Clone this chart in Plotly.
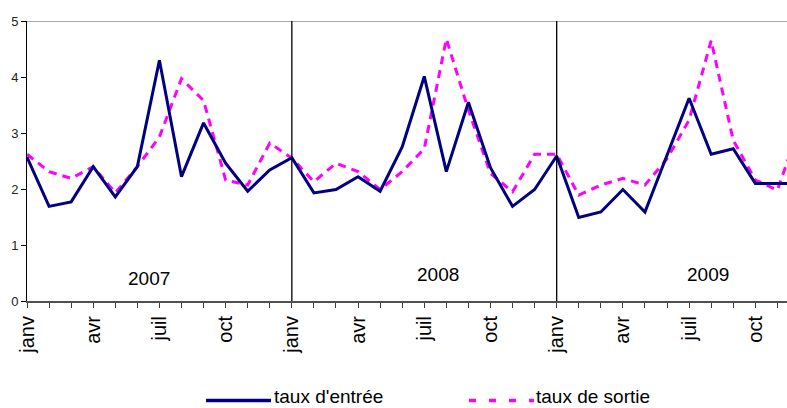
import plotly.graph_objects as go

# ---- data ----
years = ["2007", "2008", "2009"]
month_names = ["janv", "févr", "mars", "avr", "mai", "juin",
               "juil", "août", "sept", "oct", "nov", "déc"]
categories = [f"{m} {y}" for y in years for m in month_names]
tick_labels = ["janv", "avr", "juil", "oct"]

taux_entree = [2.57, 1.69, 1.77, 2.40, 1.86, 2.40, 4.30, 2.22, 3.18, 2.46, 1.96, 2.34,
               2.56, 1.93, 1.99, 2.22, 1.96, 2.75, 4.01, 2.31, 3.55, 2.38, 1.69, 1.99,
               2.59, 1.49, 1.59, 1.99, 1.59, 2.60, 3.62, 2.62, 2.72, 2.10, 2.10, 2.10]
taux_sortie = [2.62, 2.31, 2.19, 2.40, 1.93, 2.40, 2.93, 3.97, 3.58, 2.16, 2.07, 2.82,
               2.55, 2.13, 2.46, 2.31, 1.99, 2.31, 2.72, 4.68, 3.41, 2.28, 1.95, 2.62,
               2.62, 1.89, 2.07, 2.19, 2.07, 2.54, 3.23, 4.65, 2.87, 2.16, 1.98, 3.10]

series_names = ["taux d'entrée", "taux de sortie"]

# ---- figure ----
x = list(range(len(categories)))
FONT = "Liberation Sans, Arial, sans-serif"
NAVY = "#000080"
MAGENTA = "#FF00FF"

fig = go.Figure()
fig.add_trace(go.Scatter(x=x, y=taux_sortie, mode="lines", name=series_names[1],
                         line=dict(color=MAGENTA, width=3, dash="8px,6px"),
                         showlegend=False, hoverinfo="skip"))
fig.add_trace(go.Scatter(x=x, y=taux_entree, mode="lines", name=series_names[0],
                         line=dict(color=NAVY, width=3),
                         showlegend=False, hoverinfo="skip"))

tickvals = x
ticktext = [tick_labels[(i % 12) // 3] if i % 3 == 0 else "" for i in x]

W, H = 787, 408
L, T, B = 27, 21, 107
plot_w = W - L
px_per_month = 22.07
x_end = plot_w / px_per_month

fig.update_layout(
    width=W, height=H,
    margin=dict(l=L, r=0, t=T, b=B, pad=0),
    paper_bgcolor="white", plot_bgcolor="white",
    font=dict(family=FONT, color="black"),
    xaxis=dict(range=[0, x_end], tickmode="array", tickvals=tickvals, ticktext=ticktext,
               tickangle=-90, ticks="outside", ticklen=5, tickwidth=1, tickcolor="#404040",
               showgrid=False, zeroline=False, showline=True, linecolor="#505050", linewidth=2,
               tickfont=dict(size=20, family=FONT, color="black")),
    yaxis=dict(range=[0, 5], tickvals=[0, 1, 2, 3, 4, 5], ticks="outside", ticklen=5,
               tickcolor="black", tickwidth=1,
               showgrid=False, zeroline=False, showline=True, linecolor="black", linewidth=1,
               tickfont=dict(size=13, family=FONT, color="#222")),
)

# top border
fig.add_shape(type="line", xref="paper", yref="y", x0=0, x1=1, y0=5, y1=5,
              line=dict(color="#8c8c8c", width=1.5))
# year separators
for k in range(1, len(years)):
    fig.add_shape(type="line", xref="x", yref="y", x0=12 * k, x1=12 * k, y0=0, y1=5,
                  line=dict(color="black", width=1.3))

# year labels
year_pos = [(5.54, 0.40), (18.61, 0.48), (30.85, 0.48)]
for yr, (xa, ya) in zip(years, year_pos):
    fig.add_annotation(x=xa, y=ya, xref="x", yref="y", text=yr, showarrow=False,
                       font=dict(size=19, family=FONT, color="black"),
                       xanchor="center", yanchor="middle")

# manual legend
def px2paper_x(px):
    return (px - L) / plot_w

def py2paper_y(py):
    return (H - B - py) / (H - B - T)

ly = py2paper_y(400.5)
fig.add_shape(type="line", xref="paper", yref="paper",
              x0=px2paper_x(206), x1=px2paper_x(271), y0=ly, y1=ly,
              line=dict(color=NAVY, width=3.5))
fig.add_shape(type="line", xref="paper", yref="paper",
              x0=px2paper_x(469), x1=px2paper_x(534), y0=ly, y1=ly,
              line=dict(color=MAGENTA, width=3.5, dash="7px,13px"))
fig.add_annotation(x=px2paper_x(273), y=py2paper_y(396), xref="paper", yref="paper",
                   text=series_names[0], showarrow=False, xanchor="left", yanchor="middle",
                   borderpad=0, font=dict(size=19, family=FONT, color="black"))
fig.add_annotation(x=px2paper_x(535), y=py2paper_y(396), xref="paper", yref="paper",
                   text=series_names[1], showarrow=False, xanchor="left", yanchor="middle",
                   borderpad=0, font=dict(size=19, family=FONT, color="black"))

fig.write_html(
    "out.html",
    config={"displayModeBar": False},
    post_script="document.body.style.margin='0';document.body.style.overflow='hidden';",
)
